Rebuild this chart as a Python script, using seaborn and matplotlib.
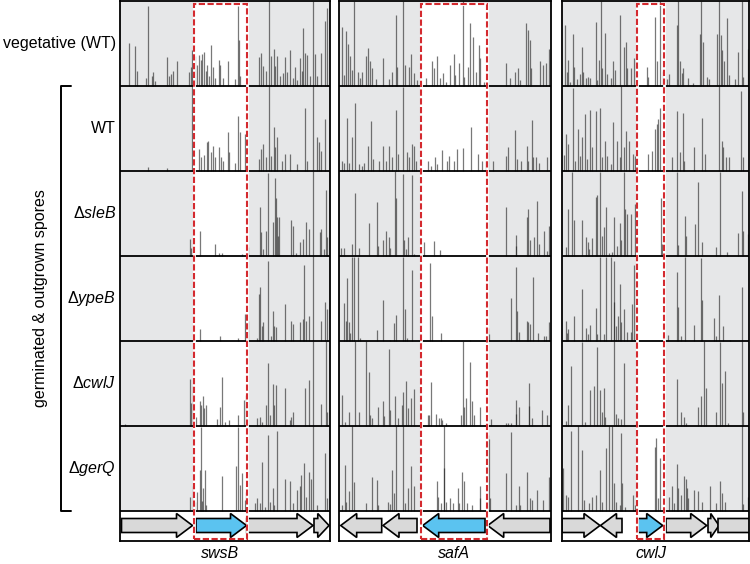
import numpy as np
import matplotlib
matplotlib.use("Agg")
import matplotlib.pyplot as plt
from matplotlib.patches import Rectangle, Polygon
from matplotlib.lines import Line2D
import seaborn as sns

sns.set_theme(style="white")
plt.rcParams['font.family'] = ['Liberation Sans', 'DejaVu Sans']
plt.rcParams['text.color'] = 'black'
plt.rcParams['mathtext.fontset'] = 'custom'
plt.rcParams['mathtext.rm'] = 'Liberation Sans'
plt.rcParams['mathtext.it'] = 'Liberation Sans:italic'

# ── data ─────────────────────────────────────────────────────────────────────
row_labels = ['vegetative (WT)', 'WT', r'Δ$\mathit{sleB}$', r'Δ$\mathit{ypeB}$',
              r'Δ$\mathit{cwlJ}$', r'Δ$\mathit{gerQ}$']
gene_names = ['swsB', 'safA', 'cwlJ']
window_bp = [2100, 2120, 1870]
target_box = [(743, 1267), (817, 1480), (747, 1023)]

# (start, end, strand)
swsB_genes = [(15, 725, 1), (760, 1265, 1), (1267, 1930, 1), (1940, 2090, 1)]
safA_genes = [(17, 427, -1), (440, 780, -1), (837, 1460, -1), (1487, 2110, -1)]
cwlJ_genes = [(0, 380, 1), (385, 600, -1), (760, 1007, 1), (1040, 1447, 1),
              (1460, 1570, 1), (1560, 2100, 1)]
target_gene = [1, 2, 2]

# insertion position (bp), relative read count (0-1)
swsB_veg = [(87, .51), (147, .47), (173, .18), (257, .10), (277, .94), (317, .12), (333, .17),
            (350, .06), (467, .34), (493, .12), (510, .14), (533, .18), (567, .29), (693, .16),
            (707, .22), (720, .43), (733, .10), (750, .35), (773, .25), (793, .37), (810, .31),
            (823, .38), (840, .40), (857, .18), (873, .25), (893, .12), (913, .48), (933, .22),
            (950, .10), (987, .31), (1000, .25), (1027, .10), (1083, .30), (1150, .08),
            (1180, .94), (1187, .54), (1200, .12), (1267, .12), (1393, .34), (1413, .39),
            (1433, .24), (1460, .18), (1487, 1.0), (1507, .35), (1537, .44), (1553, .24),
            (1567, .35), (1600, .12), (1627, .15), (1653, .34), (1673, .16), (1703, .42),
            (1727, .10), (1750, .22), (1767, .07), (1800, .33), (1817, .18), (1833, .69),
            (1850, .39), (1873, .37), (1900, .12), (1933, 1.0), (1953, .38), (1973, .12),
            (2010, .39), (2050, .77), (2067, .92)]
swsB_wt = [(277, .05), (467, .04), (717, 1.0), (793, .26), (813, .16), (837, .19), (867, .34),
           (883, .36), (907, .22), (933, .30), (950, .16), (990, .28), (1007, .16), (1033, .12),
           (1083, .46), (1093, .22), (1150, .10), (1180, .65), (1200, .46), (1250, .44),
           (1267, .18), (1393, .14), (1413, .26), (1433, .32), (1460, .16), (1487, 1.0),
           (1507, .18), (1537, .52), (1550, .28), (1567, .40), (1617, .12), (1653, .20),
           (1703, .20), (1767, .08), (1850, .75), (1867, .12), (1933, 1.0), (1967, .40),
           (1993, .34), (2010, .24), (2050, .62)]
swsB_sleB = [(700, .20), (707, .10), (797, .30), (947, .14), (987, .03), (1020, .03), (1220, .02),
             (1267, .16), (1280, .11), (1400, .58), (1413, .28), (1430, .08), (1463, .30),
             (1480, .98), (1533, .40), (1547, .92), (1560, .68), (1573, .46), (1583, .24),
             (1593, .46), (1713, .42), (1727, .36), (1763, .04), (1797, .16), (1830, .20),
             (1863, .40), (1887, .32), (1930, 1.0), (1997, .28), (2013, .32), (2040, .08),
             (2060, .78), (2073, .22)]
swsB_ypeB = [(700, .01), (797, .14), (997, .06), (1180, .04), (1247, .32), (1263, .24), (1280, .24),
             (1367, .04), (1387, .55), (1403, .64), (1420, .18), (1433, .23), (1480, .94),
             (1507, .06), (1533, .36), (1543, .18), (1560, .16), (1653, .44), (1713, .24),
             (1730, .20), (1797, .22), (1830, .26), (1840, .90), (1863, .24), (1887, .30),
             (1930, 1.0), (2013, .24), (2053, .46), (2073, .38)]
swsB_cwlJ = [(53, .02), (700, .56), (713, .27), (733, .47), (763, .11), (797, .30), (810, .25),
             (830, .35), (840, .21), (863, .25), (973, .08), (997, .23), (1023, .58), (1053, .05),
             (1087, .07), (1180, .13), (1240, .31), (1257, .37), (1273, .24), (1367, .09),
             (1397, .11), (1420, .05), (1460, .25), (1483, .75), (1500, .13), (1533, .50),
             (1540, .25), (1563, .48), (1653, .45), (1700, .07), (1713, .11), (1730, .17),
             (1847, .45), (1890, .54), (1933, 1.0), (2013, .26), (2060, 1.0), (2073, .17)]
swsB_gerQ = [(697, .17), (730, .29), (747, .11), (773, .23), (797, .49), (807, .99), (820, .12),
             (833, .27), (847, .49), (863, .07), (1020, .41), (1163, .53), (1180, .99), (1197, .31),
             (1220, .45), (1247, .13), (1263, .23), (1347, .09), (1373, .15), (1403, .09),
             (1423, .58), (1447, .05), (1483, .90), (1497, .11), (1527, .27), (1540, .07),
             (1567, .94), (1653, .38), (1700, .35), (1730, .09), (1773, .25), (1797, .29),
             (1813, .43), (1837, .57), (1857, .17), (1887, .46), (1907, .38), (1933, 1.0),
             (1970, .07), (2053, .69), (2073, .15)]

safA_veg = [(30, .70), (53, .13), (73, .65), (90, .50), (107, .35), (127, .19), (153, 1.0),
            (193, .17), (213, .09), (233, .17), (267, .35), (293, .45), (313, .29), (333, .21),
            (373, .08), (440, .33), (497, .08), (530, .17), (567, .84), (580, .23), (640, 1.0),
            (663, .25), (697, .22), (720, .38), (753, .15), (780, .07), (873, .09), (930, .29),
            (947, .21), (980, .35), (1013, .10), (1040, .15), (1067, .05), (1107, .25),
            (1147, .38), (1163, .13), (1197, .27), (1237, 1.0), (1253, .11), (1287, .23),
            (1313, .74), (1340, .58), (1370, .17), (1397, .48), (1413, .33), (1447, .05),
            (1480, .29), (1673, .27), (1707, .09), (1763, .17), (1787, .21), (1807, .07),
            (1873, .74), (1890, .66), (1907, .54), (1920, .21), (2013, .29), (2040, .25),
            (2073, .27), (2097, .44)]
safA_wt = [(27, .12), (50, .10), (77, .63), (103, .10), (127, .40), (157, .80), (203, .08),
           (227, .06), (250, .09), (293, .29), (317, .59), (343, .14), (403, .12), (443, .30),
           (470, .12), (503, .30), (527, .16), (570, .72), (593, .20), (643, .99), (677, .22),
           (697, .16), (727, .32), (753, .30), (770, .12), (893, .12), (917, .06), (960, .16),
           (983, .08), (1027, .25), (1077, .12), (1103, .18), (1150, .12), (1177, .26),
           (1237, .27), (1317, .52), (1393, .20), (1427, .12), (1470, .12), (1493, .58),
           (1543, .12), (1670, .18), (1690, .28), (1757, .48), (1777, .14), (1817, .12),
           (1877, .30), (1890, .12), (1927, .60), (1943, .16), (1970, .16), (2003, .10),
           (2077, .16)]
safA_sleB = [(20, .10), (47, .10), (127, .14), (160, .75), (200, .10), (300, .39), (380, .64),
             (393, .12), (440, .19), (467, .29), (500, .22), (513, .09), (560, 1.0), (567, .68),
             (640, .97), (647, .19), (667, .08), (693, .22), (727, .96), (747, .02), (853, .17),
             (953, .18), (1007, .07), (1673, .58), (1767, .25), (1773, .12), (1880, .46),
             (1893, .55), (1907, .19), (1953, .22), (1980, .65), (2000, .14), (2047, .30),
             (2080, .06), (2100, .36)]
safA_ypeB = [(53, .45), (67, .24), (80, .74), (100, .23), (113, .10), (127, .99), (153, .99),
             (193, .99), (207, .03), (380, .13), (440, .49), (507, .01), (553, .21), (573, .31),
             (640, .99), (660, .38), (680, .04), (727, .84), (907, .92), (927, .30), (1020, .09),
             (1313, .01), (1487, .15), (1500, .08), (1720, .51), (1767, .88), (1780, .36),
             (1800, .11), (1880, .24), (1893, .23), (1907, .20), (1937, .76), (1993, .10),
             (2047, .06), (2073, .06), (2100, .23)]
safA_cwlJ = [(33, .37), (60, .05), (100, .17), (160, 1.0), (200, .17), (267, 1.0), (300, .64),
             (313, .13), (327, .09), (387, .22), (440, .30), (453, .12), (500, .91), (513, .19),
             (560, .35), (587, .10), (633, .25), (640, .40), (670, .53), (693, .21), (720, .33),
             (747, .44), (887, .13), (900, .13), (920, .52), (973, .14), (997, .10), (1020, .10),
             (1033, .07), (1067, .03), (1220, .13), (1237, 1.0), (1247, .23), (1267, .33),
             (1313, .76), (1333, .30), (1347, .13), (1413, .22), (1520, .08), (1673, .04),
             (1687, .04), (1720, .04), (1767, .31), (1773, .14), (1800, .22), (1897, .51),
             (1903, .24), (1930, .09), (2033, .19), (2080, .13)]
safA_gerQ = [(33, .07), (60, .54), (73, .11), (100, .24), (127, 1.0), (153, .34), (267, .09),
             (333, .40), (380, .37), (393, .07), (493, .11), (507, .08), (533, .49), (547, .21),
             (573, 1.0), (640, 1.0), (660, .09), (693, .27), (720, .53), (753, .30), (980, .36),
             (987, .17), (1020, .10), (1047, 1.0), (1053, .51), (1073, .11), (1107, .15),
             (1140, .09), (1187, .27), (1200, .09), (1233, .46), (1247, .35), (1280, .10),
             (1333, .07), (1407, .29), (1413, .15), (1487, .90), (1500, .85), (1513, .15),
             (1673, .45), (1720, .93), (1767, .07), (1800, .29), (1813, .07), (1880, .46),
             (1907, .15), (1927, .13), (1980, .25), (2040, .13), (2097, .40)]

cwlJ_veg = [(33, .72), (47, .17), (63, .31), (80, .05), (113, .62), (120, .23), (153, .08),
            (180, .14), (200, .46), (213, .17), (240, .09), (263, .11), (280, .10), (340, .76),
            (353, .07), (373, .31), (387, 1.0), (397, .21), (433, .63), (453, .14), (487, .09),
            (513, .29), (530, .19), (580, .84), (620, .46), (640, .52), (653, .21), (687, .21),
            (720, .33), (847, .23), (863, .11), (927, .82), (947, .29), (980, 1.0), (1013, .18),
            (1053, .08), (1070, .14), (1147, .72), (1157, 1.0), (1180, .29), (1197, .15),
            (1213, .21), (1260, .09), (1313, .03), (1380, .62), (1390, 1.0), (1407, .52),
            (1447, .11), (1473, .08), (1547, .62), (1573, 1.0), (1587, .60), (1603, .42),
            (1620, .29), (1647, .80), (1673, .13), (1730, .08), (1763, .40), (1797, 1.0),
            (1813, .11), (1860, .44)]
cwlJ_wt = [(20, .19), (40, .44), (63, .32), (113, .98), (130, .12), (163, .50), (180, .18),
           (200, .40), (233, .67), (247, .14), (280, .72), (297, .28), (340, .71), (383, .75),
           (397, .16), (433, .36), (453, .18), (487, .08), (513, .58), (547, .36), (580, .16),
           (590, 1.0), (620, .28), (640, .47), (673, .36), (707, .20), (730, .18), (863, .20),
           (897, .24), (930, .50), (947, .56), (963, .62), (980, .75), (1097, .16), (1147, .71),
           (1180, .22), (1207, .69), (1220, .12), (1320, .28), (1397, .63), (1430, .20),
           (1573, 1.0), (1600, .36), (1613, .28), (1640, .16), (1673, .16), (1787, .95),
           (1807, .16)]
cwlJ_sleB = [(37, .11), (63, .56), (97, .99), (117, .42), (203, .43), (237, .23), (257, .16),
             (270, .08), (303, .21), (337, .70), (353, .72), (383, .99), (397, .24), (417, .34),
             (437, .58), (470, .04), (497, .05), (523, .46), (547, .12), (577, .39), (590, .19),
             (617, .99), (627, .55), (647, .50), (687, .50), (730, .62), (987, .69), (1003, .14),
             (1150, .99), (1157, .13), (1230, .47), (1243, .24), (1330, .38), (1357, .88),
             (1397, .17), (1543, .11), (1577, .99), (1653, .05), (1763, .27), (1797, .77),
             (1810, .30), (1857, .26)]
cwlJ_ypeB = [(37, .24), (50, .10), (63, .14), (117, .30), (203, .61), (237, .15), (257, .08),
             (283, .19), (337, .39), (350, .08), (383, .99), (417, .08), (437, .99), (487, .99),
             (517, .94), (523, .46), (543, .18), (563, .30), (583, .67), (590, .22), (620, .38),
             (650, .11), (690, .11), (703, .44), (717, .90), (1063, .07), (1150, .81), (1157, .40),
             (1190, .06), (1230, .99), (1320, .19), (1390, .98), (1397, .48), (1520, .27),
             (1537, .06), (1570, .54), (1610, .18), (1677, .01), (1797, .64)]
cwlJ_cwlJ = [(37, .06), (63, .25), (90, .71), (197, .99), (230, .05), (283, .42), (323, .47),
             (353, .93), (383, .42), (397, .17), (417, .45), (430, .11), (517, 1.0), (543, .14),
             (563, .10), (590, .08), (623, .75), (743, .02), (1150, .56), (1190, .17), (1223, .11),
             (1237, .04), (1357, .22), (1390, .35), (1423, 1.0), (1437, .45), (1543, .17),
             (1577, .99), (1603, .51), (1630, .65), (1663, .04), (1797, 1.0), (1810, .17)]
cwlJ_gerQ = [(10, .51), (37, .19), (57, .17), (90, .95), (163, 1.0), (203, .72), (223, .13),
             (270, .09), (303, .17), (337, .19), (383, .49), (403, .11), (437, .75), (470, 1.0),
             (497, 1.0), (520, .33), (537, .11), (577, .07), (590, .92), (603, .33), (630, .05),
             (710, .19), (730, .07), (930, .76), (943, .86), (963, .15), (983, .63), (1070, .17),
             (1103, .29), (1123, .09), (1150, .56), (1163, .27), (1190, .19), (1223, .41),
             (1237, .38), (1253, .27), (1263, .15), (1317, .25), (1357, .24), (1397, .11),
             (1477, .30), (1537, .09), (1577, .36), (1603, .21), (1630, .11), (1797, 1.0),
             (1810, .08), (1857, .17)]

panel_genes = [swsB_genes, safA_genes, cwlJ_genes]
panel_rows = [
    [swsB_veg, swsB_wt, swsB_sleB, swsB_ypeB, swsB_cwlJ, swsB_gerQ],
    [safA_veg, safA_wt, safA_sleB, safA_ypeB, safA_cwlJ, safA_gerQ],
    [cwlJ_veg, cwlJ_wt, cwlJ_sleB, cwlJ_ypeB, cwlJ_cwlJ, cwlJ_gerQ],
]

# ── layout (pixels) ──────────────────────────────────────────────────────────
W, H = 750, 564
panel_px = [(120, 330), (339, 551), (562, 749)]
top_px, rows_bottom_px, track_bottom_px = 1, 511, 541
row_px = (rows_bottom_px - top_px) / 6
track_h = (track_bottom_px - rows_bottom_px) / row_px
box_top = 6 - 3 / row_px
box_bottom = -(539 - rows_bottom_px) / row_px
arrow_y = -(525.5 - rows_bottom_px) / row_px
body_h = 7 / row_px
head_h = 12 / row_px

GREY_BG = '#e6e7e8'
RED = '#d42a2f'
BLUE = '#5bc3f0'
GENE_GREY = '#d9d9d9'

fig = plt.figure(figsize=(7.5, 5.64), dpi=100)


def arrow_poly(start, end, strand):
    hl = min(160, 0.75 * (end - start))
    if strand > 0:
        b = end - hl
        pts = [(start, arrow_y - body_h), (b, arrow_y - body_h), (b, arrow_y - head_h),
               (end, arrow_y), (b, arrow_y + head_h), (b, arrow_y + body_h),
               (start, arrow_y + body_h)]
    else:
        b = start + hl
        pts = [(end, arrow_y - body_h), (b, arrow_y - body_h), (b, arrow_y - head_h),
               (start, arrow_y), (b, arrow_y + head_h), (b, arrow_y + body_h),
               (end, arrow_y + body_h)]
    return pts


for p, (x0, x1) in enumerate(panel_px):
    ax = fig.add_axes([x0 / W, 1 - track_bottom_px / H, (x1 - x0) / W,
                       (track_bottom_px - top_px) / H])
    ax.set_xlim(0, window_bp[p])
    ax.set_ylim(-track_h, 6)
    ax.set_xticks([])
    ax.set_yticks([])
    ax.set_facecolor('white')
    for s in ax.spines.values():
        s.set_color('black')
        s.set_linewidth(1.3)
        s.set_zorder(7)

    bl, br = target_box[p]
    ax.add_patch(Rectangle((0, 0), window_bp[p], 6, fc=GREY_BG, ec='none', zorder=0))
    ax.add_patch(Rectangle((bl, 0), br - bl, box_top, fc='white', ec='none', zorder=0.5))

    for r, cell in enumerate(panel_rows[p]):
        arr = np.array(cell, dtype=float)
        base = 5 - r
        ax.vlines(arr[:, 0], base, base + np.minimum(arr[:, 1], 1.0) * 0.995,
                  color='#1e1e1e', alpha=0.6, lw=0.9, zorder=2)

    for y in range(0, 6):
        ax.axhline(y, color='black', lw=1.3, zorder=4)

    for g, (start, end, strand) in enumerate(panel_genes[p]):
        fc = BLUE if g == target_gene[p] else GENE_GREY
        ax.add_patch(Polygon(arrow_poly(start, end, strand), closed=True, fc=fc,
                             ec='black', lw=1.2, zorder=3))

    ax.add_patch(Rectangle((bl, box_bottom), br - bl, box_top - box_bottom, fill=False,
                           ec='white', lw=2.0, zorder=5))
    ax.add_patch(Rectangle((bl, box_bottom), br - bl, box_top - box_bottom, fill=False,
                           ec=RED, lw=1.5, ls=(0, (3, 1.2)), zorder=6))

    ax.text((bl + br) / 2, -(553 - rows_bottom_px) / row_px, gene_names[p],
            style='italic', ha='center', va='center', fontsize=11.5, clip_on=False)

# row labels
for r, lab in enumerate(row_labels):
    yc = top_px + (r + 0.5) * row_px
    fig.text(116 / W, 1 - yc / H, lab, ha='right', va='center', fontsize=11.5)

# bracket for germinated samples
fig.add_artist(Line2D([71 / W, 61 / W, 61 / W, 71 / W],
                      [1 - 86 / H, 1 - 86 / H, 1 - 511 / H, 1 - 511 / H],
                      color='black', lw=1.4))
fig.text(41 / W, 1 - 298 / H, 'germinated & outgrown spores', rotation=90,
         ha='center', va='center', fontsize=11.5)

fig.savefig('out.png', dpi=100)
